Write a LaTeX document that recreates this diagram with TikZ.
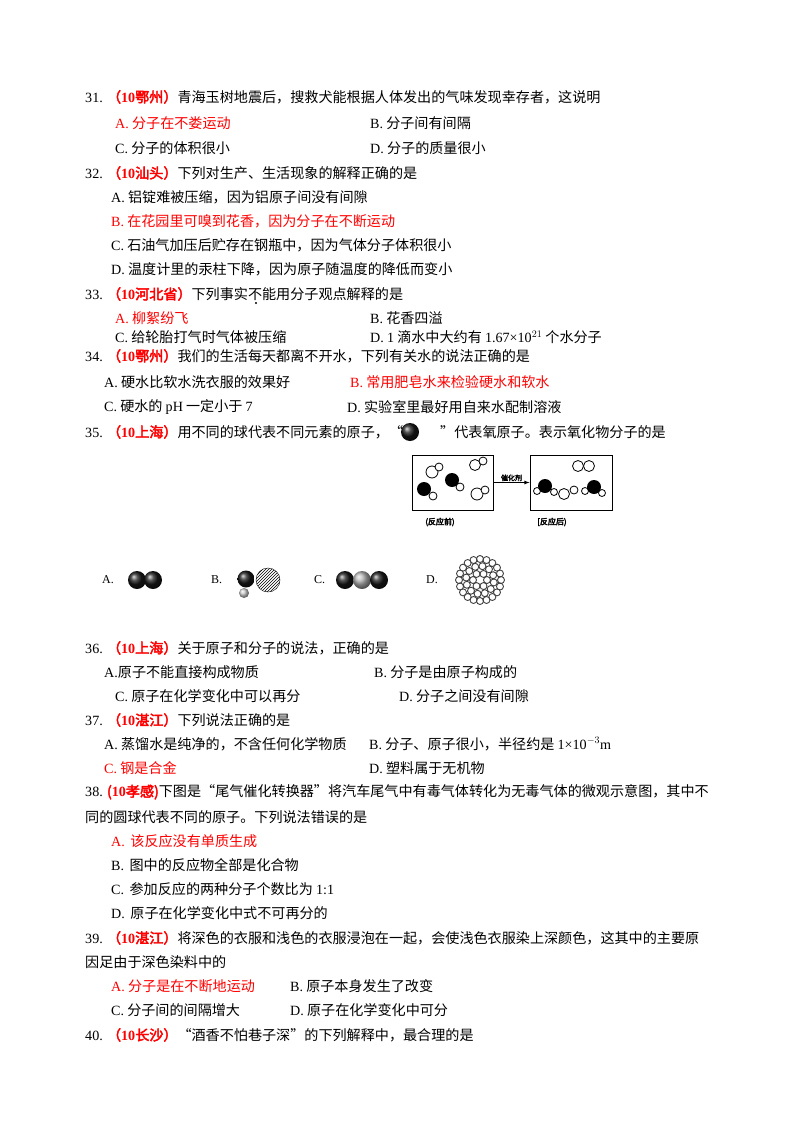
\documentclass[tikz,border=0pt]{standalone}
\usepackage{fontspec}
\usetikzlibrary{patterns}
\setmainfont{Noto Sans CJK SC}[BoldFont={Noto Sans CJK SC},BoldFeatures={FakeBold=3}]
\newfontfamily\lat{Liberation Serif}
\newcommand{\Lt}[1]{{\lat #1}}
\newcommand{\Rl}[1]{\textcolor{red}{\bfseries #1}}
\begin{document}
\begin{tikzpicture}[x=1pt,y=-1pt,
  t/.style={anchor=west,inner sep=0pt,font=\fontsize{14.1}{15}\selectfont},
  r/.style={t,text=red},
  wb/.style={draw=black,fill=white,line width=0.8pt},
  bb/.style={ball color=black!90,draw=none},
  bx/.style={draw=black,line width=0.9pt}]
\useasboundingbox (0,0) rectangle (800,1132);
\fill[white] (0,0) rectangle (800,1132);
% 31
\node[t] (q31) at (85,97) {\Lt{31.} \Rl{（\Lt{10}鄂州）}青海玉树地震后，搜救犬能根据人体发出的气味发现幸存者，这说明};
\node[r] (q31a) at (115,123) {\Lt{A.} 分子在不娄运动};
\node[t] (q31b) at (370,123) {\Lt{B.} 分子间有间隔};
\node[t] (q31c) at (115,148) {\Lt{C.} 分子的体积很小};
\node[t] (q31d) at (370,148) {\Lt{D.} 分子的质量很小};
% 32
\node[t] (q32) at (85,173) {\Lt{32.} \Rl{（\Lt{10}汕头）}下列对生产、生活现象的解释正确的是};
\node[t] (q32a) at (111,197) {\Lt{A.} 铝锭难被压缩，因为铝原子间没有间隙};
\node[r] (q32b) at (111,221) {\Lt{B.} 在花园里可嗅到花香，因为分子在不断运动};
\node[t] (q32c) at (111,245) {\Lt{C.} 石油气加压后贮存在钢瓶中，因为气体分子体积很小};
\node[t] (q32d) at (111,269) {\Lt{D.} 温度计里的汞柱下降，因为原子随温度的降低而变小};
% 33
\node[t] (q33) at (85,294) {\Lt{33.} \Rl{（\Lt{10}河北省）}下列事实不能用分子观点解释的是};
\fill (256,303) circle (1.1);
\node[r] (q33a) at (115,318) {\Lt{A.} 柳絮纷飞};
\node[t] (q33b) at (370,318) {\Lt{B.} 花香四溢};
\node[t] (q33c) at (115,337) {\Lt{C.} 给轮胎打气时气体被压缩};
\node[t] (q33d) at (370,337) {\Lt{D.} \Lt{1} 滴水中大约有 \Lt{1.67×10$^{21}$} 个水分子};
% 34
\node[t] (q34) at (85,356) {\Lt{34.} \Rl{（\Lt{10}鄂州）}我们的生活每天都离不开水，下列有关水的说法正确的是};
\node[t] (q34a) at (104,382) {\Lt{A.} 硬水比软水洗衣服的效果好};
\node[r] (q34b) at (350,382) {\Lt{B.} 常用肥皂水来检验硬水和软水};
\node[t] (q34c) at (104,407) {\Lt{C.} 硬水的 \Lt{pH} 一定小于 \Lt{7}};
\node[t] (q34d) at (347,407) {\Lt{D.} 实验室里最好用自来水配制溶液};
% 35
\node[t] (q35) at (85,432) {\Lt{35.} \Rl{（\Lt{10}上海）}用不同的球代表不同元素的原子，“};
\shade[bb] (410,432) circle (9);
\node[t] (q35b) at (440,432) {”代表氧原子。表示氧化物分子的是};
% reaction diagram
\node[bx,minimum width=81,minimum height=55,inner sep=0] (box1) at (452.5,482.5) {};
\node[bx,minimum width=82,minimum height=55,inner sep=0] (box2) at (571,482.5) {};
\draw[-latex,line width=0.8pt] (box1.east) -- node[above,inner sep=1pt,font=\fontsize{7}{7}\bfseries] (cat) {催化剂} (box2.west);
\node[inner sep=0,font=\fontsize{8}{8}\bfseries] (lb1) at (440,522) {(反应前)};
\node[inner sep=0,font=\fontsize{8}{8}\bfseries] (lb2) at (552,522) {[反应后)};
\draw[wb] (432,472) circle (6); \draw[wb] (439,467) circle (4);
\draw[wb] (433,496) circle (4); \fill (424,489) circle (7);
\draw[wb] (460,487) circle (4); \fill (452,480) circle (7);
\draw[wb] (475,465) circle (5.5); \draw[wb] (483,461) circle (4);
\draw[wb] (477,494) circle (6); \draw[wb] (485,490) circle (4);
\draw[wb] (578,466) circle (5.5); \draw[wb] (589,466) circle (5.5);
\draw[wb] (537,491) circle (3.5); \draw[wb] (554,492) circle (3.5); \fill (545,486) circle (7);
\draw[wb] (564,494) circle (5.5); \draw[wb] (574,490) circle (4);
\draw[wb] (585,491) circle (3.5); \draw[wb] (602,493) circle (3.5); \fill (594,487) circle (7);
% molecule options
\node[t,font=\fontsize{12}{12}\selectfont\lat] (mA) at (102,580) {A.};
\shade[bb] (137,580) circle (9); \shade[bb] (153,580) circle (9);
\node[t,font=\fontsize{12}{12}\selectfont\lat] (mB) at (211,580) {B.};
\shade[ball color=white!80!black] (244,593) circle (5);
\shade[bb] (246,579) circle (8.5);
\draw[pattern=north east lines] (268,580) circle (12);
\node[t,font=\fontsize{12}{12}\selectfont\lat] (mC) at (314,580) {C.};
\shade[bb] (345,580) circle (9); \shade[ball color=gray!60] (362,580) circle (9); \shade[bb] (379,580) circle (9);
\node[t,font=\fontsize{12}{12}\selectfont\lat] (mD) at (426,580) {D.};
\foreach \a in {0,18,...,342}{\draw[black!75,line width=0.9pt] (480,580) ++(\a:21) circle (3.5);}
\foreach \a in {10,40,...,350}{\draw[black!75,line width=0.9pt] (480,580) ++(\a:14) circle (3.5);}
\foreach \a in {0,60,...,300}{\draw[black!75,line width=0.9pt] (480,580) ++(\a:7) circle (3.5);}
% 36
\node[t] (q36) at (85,648) {\Lt{36.} \Rl{（\Lt{10}上海）}关于原子和分子的说法，正确的是};
\node[t] (q36a) at (104,672) {\Lt{A.}原子不能直接构成物质};
\node[t] (q36b) at (374,672) {\Lt{B.} 分子是由原子构成的};
\node[t] (q36c) at (115,696) {\Lt{C.} 原子在化学变化中可以再分};
\node[t] (q36d) at (399,696) {\Lt{D.} 分子之间没有间隙};
% 37
\node[t] (q37) at (85,720) {\Lt{37.} \Rl{（\Lt{10}湛江）}下列说法正确的是};
\node[t] (q37a) at (104,744) {\Lt{A.} 蒸馏水是纯净的，不含任何化学物质};
\node[t] (q37b) at (369,744) {\Lt{B.} 分子、原子很小，半径约是 \Lt{1×10$^{-3}$m}};
\node[r] (q37c) at (104,768) {\Lt{C.} 钢是合金};
\node[t] (q37d) at (369,768) {\Lt{D.} 塑料属于无机物};
% 38
\node[t] (q38) at (85,792) {\Lt{38.} \Rl{(\Lt{10}孝感)}下图是“尾气催化转换器”将汽车尾气中有毒气体转化为无毒气体的微观示意图，其中不};
\node[t] (q38x) at (85,817) {同的圆球代表不同的原子。下列说法错误的是};
\node[r] (q38a) at (111,841) {\Lt{A.}\, 该反应没有单质生成};
\node[t] (q38b) at (111,865) {\Lt{B.}\, 图中的反应物全部是化合物};
\node[t] (q38c) at (111,889) {\Lt{C.}\, 参加反应的两种分子个数比为 \Lt{1:1}};
\node[t] (q38d) at (111,913) {\Lt{D.}\, 原子在化学变化中式不可再分的};
% 39
\node[t] (q39) at (85,938) {\Lt{39.} \Rl{（\Lt{10}湛江）}将深色的衣服和浅色的衣服浸泡在一起，会使浅色衣服染上深颜色，这其中的主要原};
\node[t] (q39x) at (85,962) {因足由于深色染料中的};
\node[r] (q39a) at (111,986) {\Lt{A.} 分子是在不断地运动};
\node[t] (q39b) at (290,986) {\Lt{B.} 原子本身发生了改变};
\node[t] (q39c) at (111,1010) {\Lt{C.} 分子间的间隔增大};
\node[t] (q39d) at (290,1010) {\Lt{D.} 原子在化学变化中可分};
% 40
\node[t] (q40) at (85,1035) {\Lt{40.} \Rl{（\Lt{10}长沙）}“酒香不怕巷子深”的下列解释中，最合理的是};
\end{tikzpicture}
\end{document}
